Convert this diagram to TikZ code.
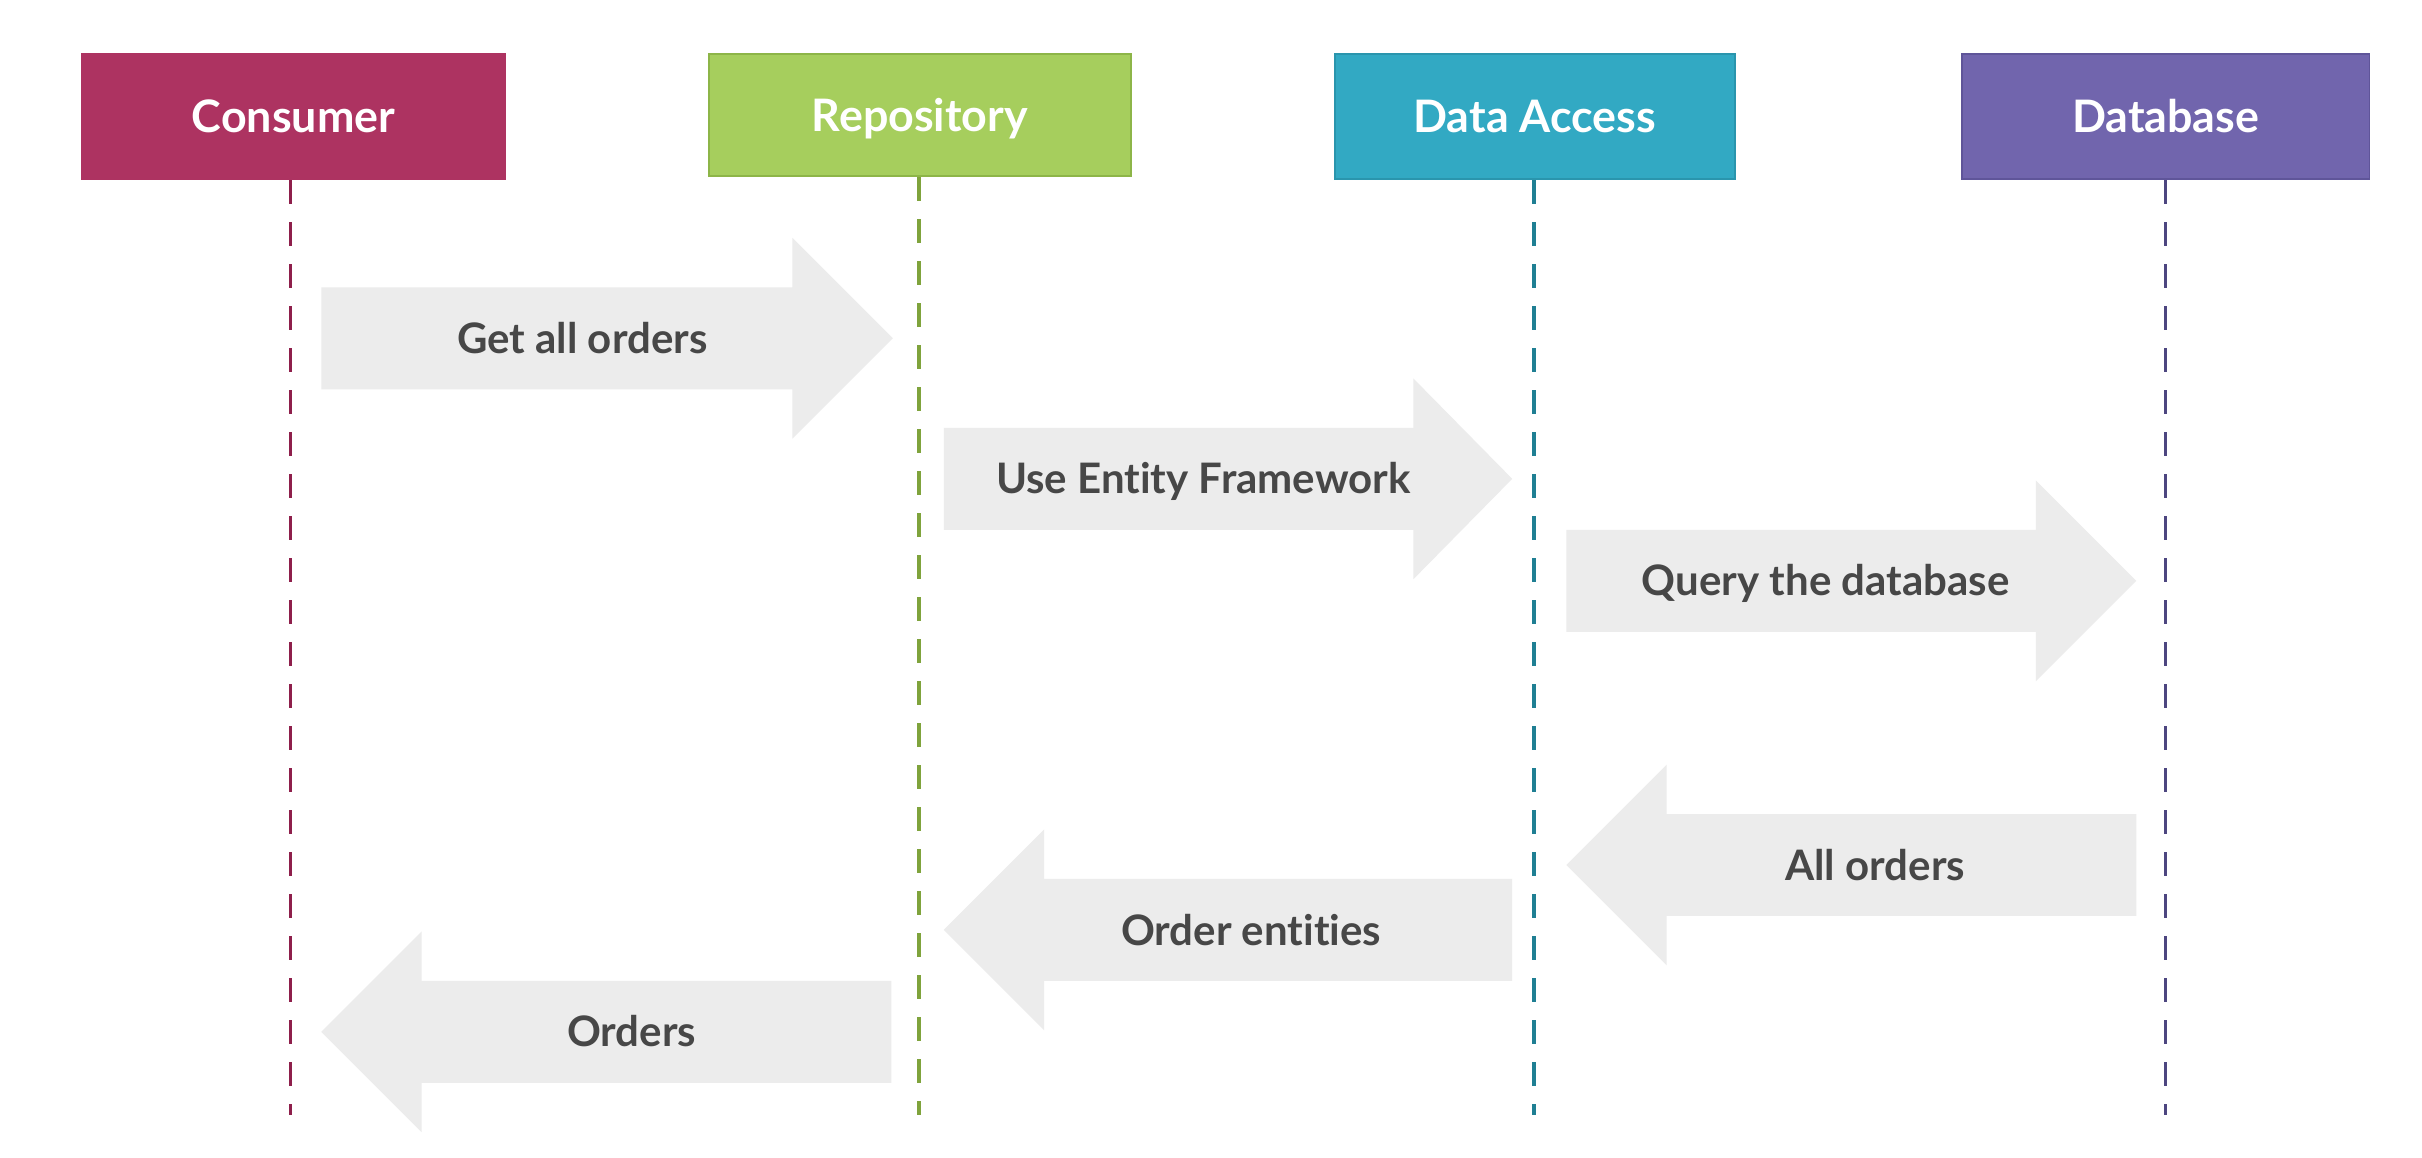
\documentclass[tikz,border=0pt]{standalone}
\usepackage{fontspec}
\setmainfont{Lato}[Ligatures=NoCommon]
\definecolor{consumerc}{HTML}{AD3361}
\definecolor{consumerl}{HTML}{8E1F4B}
\definecolor{repoc}{HTML}{A6CE5D}
\definecolor{repob}{HTML}{8DB548}
\definecolor{repol}{HTML}{7FA33C}
\definecolor{dac}{HTML}{32A9C3}
\definecolor{dab}{HTML}{2A95AD}
\definecolor{dal}{HTML}{1F7F93}
\definecolor{dbc}{HTML}{7165AD}
\definecolor{dbb}{HTML}{5F5599}
\definecolor{dbl}{HTML}{4D4680}
\definecolor{arrowgray}{HTML}{ECECEC}
\definecolor{textgray}{HTML}{474747}
\newcommand\barrow[4]{% tail x, neck x, tip x, center y
  \fill[arrowgray] (#1,#4-33) -- (#2,#4-33) -- (#2,#4-65) -- (#3,#4) -- (#2,#4+65) -- (#2,#4+33) -- (#1,#4+33) -- cycle;}
\begin{document}
\begin{tikzpicture}[x=0.5pt,y=-0.5pt,
  actor/.style={draw=#1, line width=0.6pt, inner sep=0pt, text=white, text height=10.4pt, text depth=0pt, font=\bfseries\fontsize{14.5}{16}\selectfont},
  lifeline/.style={draw=#1, line width=1.2pt, dash pattern=on 7.7pt off 5.9pt},
  msg/.style={text=textgray, text height=9.8pt, text depth=0pt, font=\bfseries\fontsize{13.6}{15}\selectfont, inner sep=0pt}]
\useasboundingbox[fill=white] (0,0) rectangle (1568,749.3);
% actors
\node[actor=consumerc, fill=consumerc, minimum width=137pt, minimum height=40.5pt] (cons) at (190,75.5) {Consumer};
\node[actor=repob, fill=repoc, minimum width=136.5pt, minimum height=39.5pt] (repo) at (595.5,74.5) {Repository};
\node[actor=dab, fill=dac, minimum width=129.5pt, minimum height=40.5pt] (da) at (993.5,75.5) {Data Access};
\node[actor=dbb, fill=dbc, minimum width=132pt, minimum height=40.5pt] (db) at (1402,75.5) {Database};
% lifeline ends
\coordinate (consE) at (188,722);
\coordinate (repoE) at (595,722);
\coordinate (daE) at (993,722);
\coordinate (dbE) at (1402,722);
% arrows
\barrow{208}{513}{578}{219}
\barrow{611}{915}{979}{310}
\barrow{1014}{1318}{1383}{376}
\barrow{1383}{1079}{1014}{560}
\barrow{979}{676}{611}{602}
\barrow{577}{273}{208}{668}
% lifelines
\draw[lifeline=consumerl] (cons.south -| consE) -- (consE);
\draw[lifeline=repol] (repo.south -| repoE) -- (repoE);
\draw[lifeline=dal] (da.south -| daE) -- (daE);
\draw[lifeline=dbl] (db.south -| dbE) -- (dbE);
% labels
\node[msg] (m1) at (377,219) {Get all orders};
\node[msg] (m2) at (779,310) {Use Entity Framework};
\node[msg] (m3) at (1182,376) {Query the database};
\node[msg] (m4) at (1214,560) {All orders};
\node[msg] (m5) at (810,602) {Order entities};
\node[msg] (m6) at (409,668) {Orders};
\end{tikzpicture}
\end{document}
